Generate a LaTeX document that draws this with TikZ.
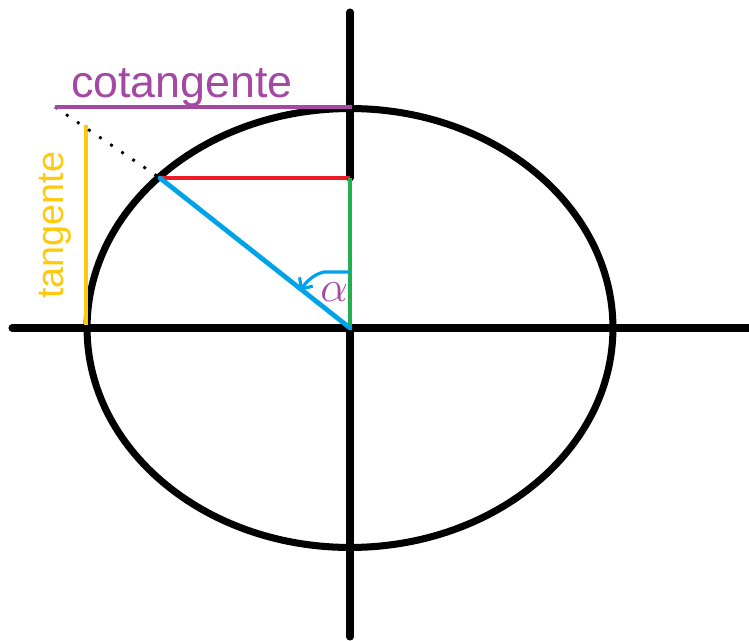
\documentclass[tikz,border=0pt]{standalone}
\usepackage{fontspec}
\setmainfont{Liberation Sans}
\usetikzlibrary{arrows.meta, positioning, calc}
\definecolor{paintpurple}{HTML}{A349A4}
\definecolor{paintyellow}{HTML}{FFC90E}
\definecolor{paintred}{HTML}{ED1C24}
\definecolor{paintgreen}{HTML}{22B14C}
\definecolor{paintblue}{HTML}{00A2E8}

\begin{document}
\begin{tikzpicture}[
  x=0.02cm, y=-0.02cm,
  axis/.style={line width=4pt, line cap=round},
  seg/.style={line width=2.2pt},
  label text/.style={inner sep=0pt, anchor=base}
]
\useasboundingbox (0,0) rectangle (749,641);

% points
\coordinate (O) at (350,328);
\coordinate (P) at (160,178);
\coordinate (S) at (350,178);
\coordinate (C) at (55,107);
\coordinate (T) at (352,107);
\coordinate (Xl) at (12,328);
\coordinate (Xr) at (749,328);
\coordinate (Yt) at (350,12);
\coordinate (Yb) at (350,637);
\coordinate (Tt) at (86,125);
\coordinate (Tb) at (86,325);

% circle and axes
\draw[axis] (O) ellipse [x radius=5.26cm, y radius=4.39cm];
\draw[axis] (Xl) -- (Xr);
\draw[axis] (Yt) -- (S);
\draw[axis] (O) -- (Yb);

% trig lines
\draw[seg, paintyellow, line width=2.3pt] (Tt) -- (Tb);
\draw[line width=1.6pt, dash pattern=on 1.6pt off 6pt] (C) -- (P);
\draw[seg, paintred] (P) -- (S);
\draw[seg, paintgreen, line width=1.8pt] (S) -- (O);
\draw[seg, paintblue, line width=2.7pt, line cap=round] (P) -- (O);
\draw[seg, paintpurple] (C) -- (T);

% angle
\draw[paintblue, line width=1.8pt, -{Straight Barb[length=5pt, width=9pt]}]
  (349,272) -- (324,272) .. controls (314,274) and (306,282) .. (300,291);
\node[paintpurple, font=\fontsize{28}{30}\selectfont] (alpha) at (334,292) {$\alpha$};

% labels
\node[label text, paintpurple, font=\fontsize{25.5}{28}\selectfont] (cot) at (182,98) {cotangente};
\node[label text, paintyellow, rotate=90, font=\fontsize{21.5}{24}\selectfont] (tan) at (63,225) {tangente};
\end{tikzpicture}
\end{document}
